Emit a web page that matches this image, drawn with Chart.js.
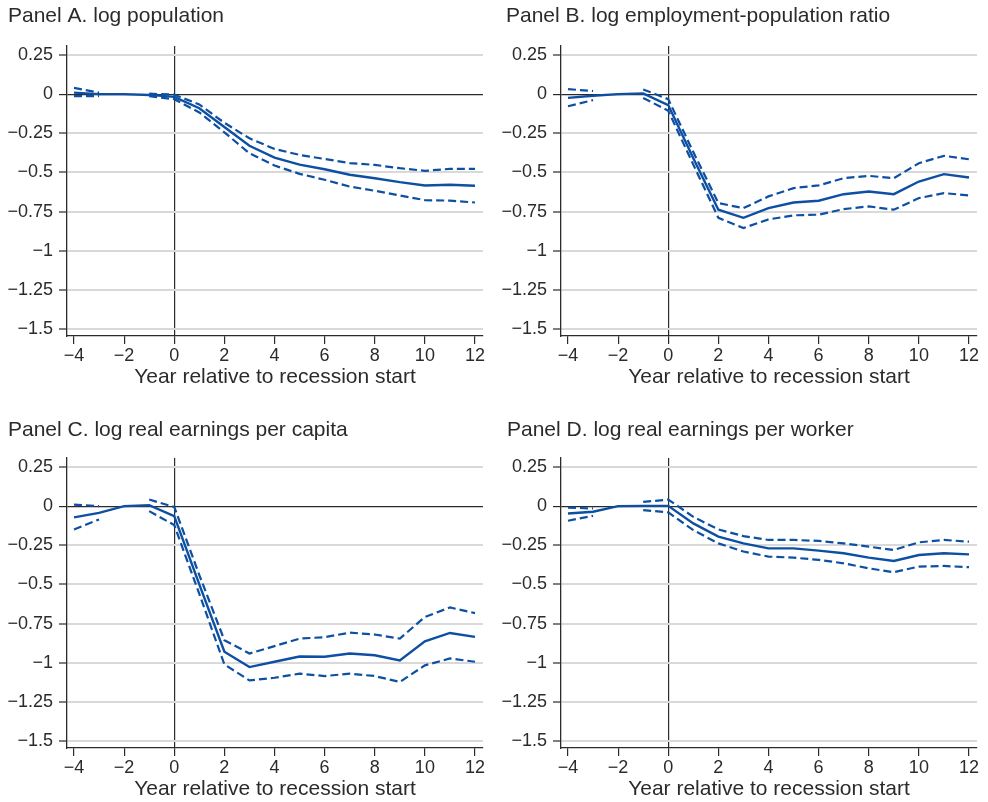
<!DOCTYPE html>
<html>
<head>
<meta charset="utf-8">
<title>Local outcomes after recessions</title>
<script src="https://cdn.jsdelivr.net/npm/chart.js@4.4.1/dist/chart.umd.min.js"></script>
<style>
  html, body { margin: 0; padding: 0; background: #fff; width: 988px; height: 802px; overflow: hidden; }
  canvas { position: absolute; }
</style>
</head>
<body>
<canvas id="panelA" width="494" height="412" style="left:0;top:0"></canvas>
<canvas id="panelB" width="494" height="412" style="left:494px;top:0"></canvas>
<canvas id="panelC" width="494" height="390" style="left:0;top:412px"></canvas>
<canvas id="panelD" width="494" height="390" style="left:494px;top:412px"></canvas>
<script>
// Event time, years relative to the start of the recession
const years = [-4, -3, -2, -1, 0, 1, 2, 3, 4, 5, 6, 7, 8, 9, 10, 11, 12];
const xTicks = [-4, -2, 0, 2, 4, 6, 8, 10, 12];
const yTicks = [0.25, 0, -0.25, -0.5, -0.75, -1, -1.25, -1.5];

// Panel A: log population (point estimate and 95% band; year -2 is the omitted base year)
const popEst = [0.01, 0.0, 0, -0.005, -0.017, -0.09, -0.21, -0.33, -0.405, -0.45, -0.48, -0.515, -0.537, -0.562, -0.583, -0.579, -0.585];
const popHi  = [0.04, 0.01, null, 0.003, -0.003, -0.066, -0.183, -0.282, -0.35, -0.388, -0.414, -0.44, -0.452, -0.473, -0.49, -0.477, -0.477];
const popLo  = [-0.013, -0.013, null, -0.013, -0.032, -0.117, -0.244, -0.378, -0.456, -0.509, -0.547, -0.59, -0.617, -0.647, -0.677, -0.68, -0.692];

// Panel B: log employment-population ratio
const eprEst = [-0.024, -0.01, 0, 0.005, -0.07, -0.41, -0.738, -0.79, -0.728, -0.692, -0.681, -0.639, -0.622, -0.639, -0.558, -0.511, -0.532];
const eprHi  = [0.032, 0.02, null, 0.03, -0.032, -0.37, -0.696, -0.728, -0.653, -0.6, -0.583, -0.537, -0.522, -0.537, -0.441, -0.394, -0.416];
const eprLo  = [-0.077, -0.038, null, -0.024, -0.106, -0.45, -0.79, -0.855, -0.8, -0.774, -0.77, -0.734, -0.717, -0.738, -0.664, -0.632, -0.647];

// Panel C: log real earnings per capita
const epcEst = [-0.072, -0.043, 0, 0.006, -0.064, -0.5, -0.93, -1.028, -0.994, -0.96, -0.962, -0.941, -0.952, -0.985, -0.863, -0.81, -0.835];
const epcHi  = [0.01, 0.0, null, 0.042, -0.005, -0.44, -0.856, -0.941, -0.894, -0.846, -0.837, -0.808, -0.82, -0.846, -0.708, -0.647, -0.683];
const epcLo  = [-0.149, -0.085, null, -0.032, -0.121, -0.56, -1.011, -1.113, -1.096, -1.07, -1.085, -1.07, -1.085, -1.123, -1.017, -0.973, -0.994];

// Panel D: log real earnings per worker
const epwEst = [-0.047, -0.036, 0, 0.002, 0.002, -0.11, -0.195, -0.238, -0.27, -0.27, -0.284, -0.301, -0.329, -0.35, -0.312, -0.301, -0.308];
const epwHi  = [-0.009, -0.015, null, 0.027, 0.042, -0.068, -0.149, -0.191, -0.216, -0.216, -0.222, -0.238, -0.259, -0.28, -0.231, -0.216, -0.227];
const epwLo  = [-0.093, -0.062, null, -0.025, -0.04, -0.153, -0.238, -0.29, -0.322, -0.329, -0.343, -0.365, -0.397, -0.422, -0.386, -0.382, -0.39];

const xTitle = 'Year relative to recession start';

const FONT = '"Liberation Sans", Arial, Helvetica, sans-serif';
const INK = '#2b2b2b';
const BLUE = '#0d4fa2';

function fmtTick(v) {
  if (v === 0) return '0';
  return (v < 0 ? '\u2212' : '') + String(Math.abs(v));
}

function toPoints(arr) {
  return years.map((yr, i) => ({ x: yr, y: arr[i] }));
}

// Panel heading and x-axis caption, drawn at fixed offsets from the plot area
const panelText = {
  id: 'panelText',
  afterDraw(chart, args, opts) {
    const ctx = chart.ctx;
    const area = chart.chartArea;
    ctx.save();
    ctx.fillStyle = INK;
    ctx.font = '21px ' + FONT;
    ctx.textAlign = 'left';
    ctx.textBaseline = 'alphabetic';
    ctx.fillText(opts.heading, opts.headX, opts.headY);
    ctx.textAlign = 'center';
    ctx.fillText(xTitle, (area.left + area.right) / 2, area.bottom + 47);
    ctx.restore();
  }
};

function makePanel(id, heading, headX, headY, est, hi, lo) {
  const canvas = document.getElementById(id);
  const xHeight = canvas.height - 46 - 290;
  const band = (arr) => ({
    data: toPoints(arr),
    borderColor: BLUE,
    borderWidth: 2.2,
    borderDash: [8, 4],
    pointRadius: 0,
    tension: 0,
    spanGaps: false,
    fill: false
  });
  return new Chart(canvas, {
    type: 'line',
    data: {
      datasets: [
        band(hi),
        band(lo),
        {
          data: toPoints(est),
          borderColor: BLUE,
          borderWidth: 2.4,
          pointRadius: 0,
          tension: 0,
          fill: false
        }
      ]
    },
    options: {
      responsive: false,
      animation: false,
      events: [],
      layout: { padding: { top: 46, left: 0, right: 11, bottom: 0 } },
      plugins: {
        legend: { display: false },
        tooltip: { enabled: false },
        title: { display: false },
        panelText: { heading: heading, headX: headX, headY: headY }
      },
      scales: {
        x: {
          type: 'linear',
          min: -4.279,
          max: 12.319,
          afterBuildTicks: (s) => { s.ticks = xTicks.map(v => ({ value: v })); },
          afterFit: (s) => { s.height = xHeight; },
          ticks: {
            color: INK,
            font: { family: FONT, size: 18 },
            padding: 1,
            maxRotation: 0,
            autoSkip: false,
            callback: (v) => fmtTick(v)
          },
          grid: {
            drawOnChartArea: true,
            drawTicks: true,
            tickLength: 8,
            tickColor: INK,
            tickWidth: 1.2,
            color: (c) => (c.tick && c.tick.value === 0 ? INK : 'rgba(0,0,0,0)'),
            lineWidth: 1.2
          },
          border: { display: true, color: INK, width: 1.3 }
        },
        y: {
          type: 'linear',
          min: -1.5447,
          max: 0.3075,
          afterBuildTicks: (s) => { s.ticks = yTicks.map(v => ({ value: v })); },
          afterFit: (s) => { s.width = 67; },
          ticks: {
            color: INK,
            font: { family: FONT, size: 18 },
            padding: 6,
            autoSkip: false,
            callback: (v) => fmtTick(v)
          },
          grid: {
            drawOnChartArea: true,
            drawTicks: true,
            tickLength: 8,
            tickColor: INK,
            tickWidth: 1.2,
            color: (c) => (c.tick && c.tick.value === 0 ? INK : '#d9d9d9'),
            lineWidth: (c) => (c.tick && c.tick.value === 0 ? 1.2 : 2)
          },
          border: { display: true, color: INK, width: 1.3 }
        }
      }
    },
    plugins: [panelText]
  });
}

makePanel('panelA', 'Panel A. log population', 8, 22, popEst, popHi, popLo);
makePanel('panelB', 'Panel B. log employment-population ratio', 12, 22, eprEst, eprHi, eprLo);
makePanel('panelC', 'Panel C. log real earnings per capita', 8, 24, epcEst, epcHi, epcLo);
makePanel('panelD', 'Panel D. log real earnings per worker', 13, 24, epwEst, epwHi, epwLo);
</script>
</body>
</html>
